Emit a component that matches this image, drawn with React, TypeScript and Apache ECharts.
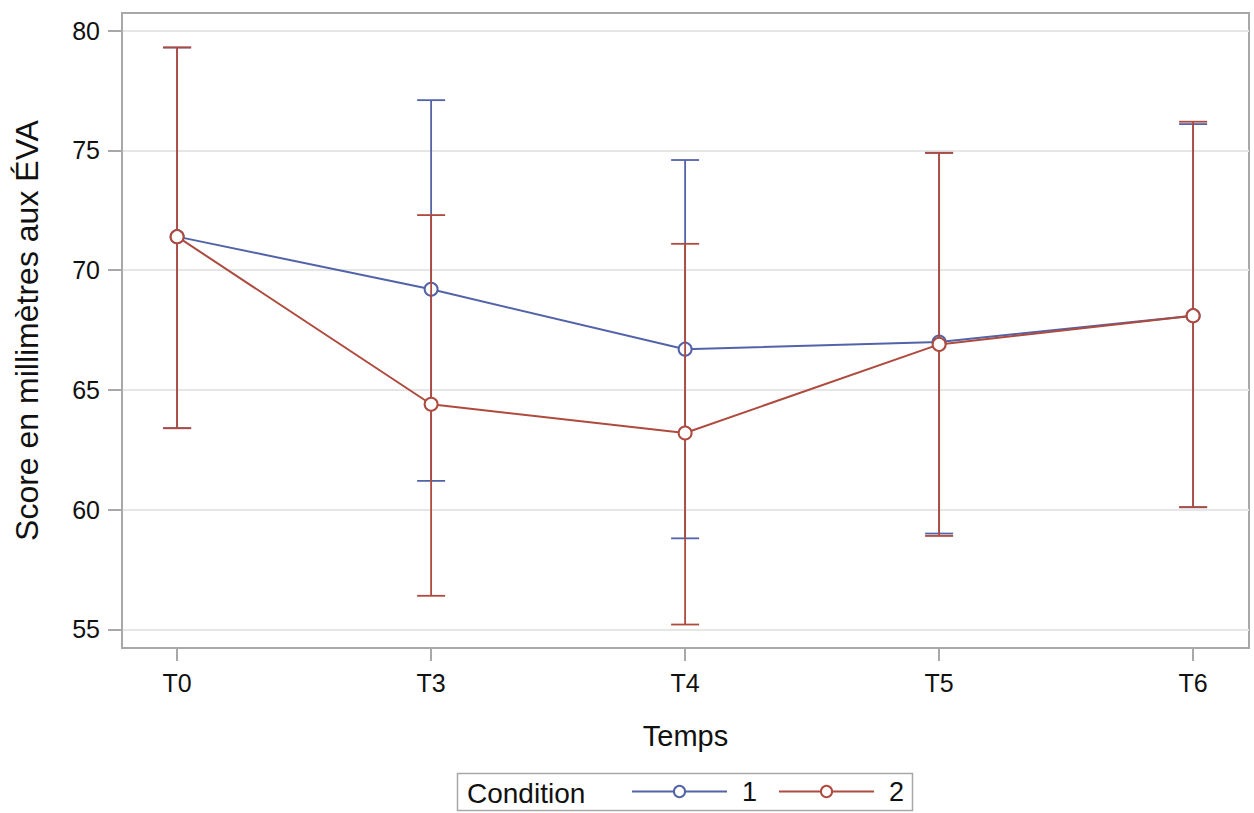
import React, { useEffect, useRef } from "react";
import * as echarts from "echarts";

const categories = ["T0", "T3", "T4", "T5", "T6"];
const yTicks = [55, 60, 65, 70, 75, 80];

const mean1 = [71.4, 69.2, 66.7, 67.0, 68.1];
const low1 = [63.4, 61.2, 58.8, 59.0, 60.1];
const high1 = [79.3, 77.1, 74.6, 74.9, 76.1];

const mean2 = [71.4, 64.4, 63.2, 66.9, 68.1];
const low2 = [63.4, 56.4, 55.2, 58.9, 60.1];
const high2 = [79.3, 72.3, 71.1, 74.9, 76.2];

const BLUE = "#5363a8";
const RED = "#ae4a3e";
const FONT = "Liberation Sans, Arial, sans-serif";
const TXT = "#111111";

function errorSeries(low: number[], high: number[], color: string, z: number) {
  return {
    type: "custom",
    z,
    silent: true,
    data: low.map((l, i) => [i, l, high[i]]),
    renderItem: (params: any, api: any) => {
      const x = api.value(0);
      const p1 = api.coord([x, api.value(1)]);
      const p2 = api.coord([x, api.value(2)]);
      const hw = 14;
      const style = { stroke: color, lineWidth: 1.8, fill: "none" };
      return {
        type: "group",
        children: [
          { type: "line", shape: { x1: p1[0], y1: p1[1], x2: p2[0], y2: p2[1] }, style },
          { type: "line", shape: { x1: p1[0] - hw, y1: p1[1], x2: p1[0] + hw, y2: p1[1] }, style },
          { type: "line", shape: { x1: p2[0] - hw, y1: p2[1], x2: p2[0] + hw, y2: p2[1] }, style },
        ],
      };
    },
  };
}

function lineSeries(name: string, mean: number[], color: string, z: number) {
  return {
    name,
    type: "line",
    z,
    data: mean.map((v, i) => [i, v]),
    symbol: "emptyCircle",
    symbolSize: 13,
    lineStyle: { color, width: 2 },
    itemStyle: { color, borderColor: color, borderWidth: 1.8 },
  };
}

export default function App() {
  const ref = useRef<HTMLDivElement>(null);
  useEffect(() => {
    if (!ref.current) return;
    const chart = echarts.init(ref.current, undefined, { renderer: "svg" });
    chart.setOption({
      animation: false,
      backgroundColor: "#ffffff",
      textStyle: { fontFamily: FONT },
      grid: {
        left: 122,
        right: 5,
        top: 13,
        bottom: 165,
        show: true,
        borderColor: "#a8a8a8",
        borderWidth: 2,
        containLabel: false,
      },
      xAxis: {
        type: "value",
        min: -0.217,
        max: 4.22,
        name: "Temps",
        nameLocation: "middle",
        nameGap: 73,
        nameTextStyle: { fontSize: 29, color: TXT, fontFamily: FONT },
        axisLine: { show: true, onZero: false, lineStyle: { color: "#a8a8a8", width: 2 } },
        axisTick: {
          show: true,
          length: 13,
          customValues: [0, 1, 2, 3, 4],
          lineStyle: { color: "#a8a8a8", width: 2 },
        },
        axisLabel: {
          customValues: [0, 1, 2, 3, 4],
          formatter: (v: number) => categories[Math.round(v)] ?? "",
          fontSize: 25,
          color: TXT,
          margin: 22,
          fontFamily: FONT,
        },
        splitLine: { show: false },
      },
      yAxis: {
        type: "value",
        min: 54.22,
        max: 80.74,
        name: "Score en millimètres aux ÉVA",
        nameLocation: "middle",
        nameGap: 79,
        nameTextStyle: { fontSize: 32, color: TXT, fontFamily: FONT },
        axisLine: { show: true, onZero: false, lineStyle: { color: "#a8a8a8", width: 2 } },
        axisTick: {
          show: true,
          length: 14,
          customValues: yTicks,
          lineStyle: { color: "#a8a8a8", width: 2 },
        },
        axisLabel: {
          customValues: yTicks,
          fontSize: 25,
          color: TXT,
          margin: 22,
          fontFamily: FONT,
        },
        splitLine: { show: true, lineStyle: { color: "#e6e6e6", width: 2 } },
      },
      legend: {
        left: 631,
        top: 778,
        padding: 0,
        itemWidth: 95,
        itemHeight: 14,
        itemGap: 21,
        textStyle: { fontSize: 27, color: TXT, fontFamily: FONT, padding: [0, 0, 0, 10] },
        data: ["1", "2"],
      },
      graphic: [
        {
          type: "rect",
          shape: { x: 457.5, y: 773.5, width: 455, height: 37 },
          style: { fill: "none", stroke: "#a8a8a8", lineWidth: 1.5 },
        },
        {
          type: "text",
          x: 467,
          y: 793,
          style: {
            text: "Condition",
            fontSize: 28,
            fill: TXT,
            fontFamily: FONT,
            verticalAlign: "middle",
          },
        },
      ],
      series: [
        errorSeries(low1, high1, BLUE, 2),
        lineSeries("1", mean1, BLUE, 3),
        errorSeries(low2, high2, RED, 4),
        lineSeries("2", mean2, RED, 5),
      ],
    });
    return () => chart.dispose();
  }, []);
  return (
    <div
      ref={ref}
      style={{ position: "fixed", left: 0, top: 0, width: 1254, height: 813 }}
    />
  );
}
